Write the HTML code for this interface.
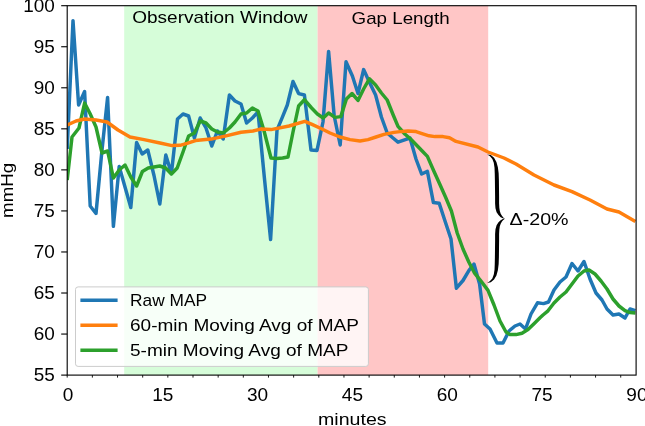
<!DOCTYPE html>
<html><head><meta charset="utf-8"><title>MAP chart</title>
<style>html,body{margin:0;padding:0;background:#fff;}svg{display:block;will-change:transform;}text{font-family:"Liberation Sans", sans-serif;font-size:17px;fill:#000;}</style></head><body>
<svg width="645" height="426" viewBox="0 0 645 426">
<rect x="0" y="0" width="645" height="426" fill="#ffffff"/>
<defs><clipPath id="ax"><rect x="67.20" y="5.70" width="568.90" height="369.40"/></clipPath></defs>
<rect x="124.2" y="5.7" width="193.40" height="369.40" fill="#d6fdd9"/>
<rect x="317.6" y="5.7" width="170.60" height="369.40" fill="#ffc6c6"/>
<g clip-path="url(#ax)" fill="none" stroke-linejoin="round" stroke-linecap="butt" stroke-width="3.47">
<polyline stroke="#1f77b4" points="67.2,149.0 73.0,20.7 78.6,105.0 84.6,91.5 90.2,206.0 96.0,213.5 101.8,152.0 107.6,97.5 113.4,226.3 119.2,166.5 125.0,187.0 130.8,207.5 136.6,142.5 142.2,154.0 147.8,150.0 154.0,175.5 159.8,204.0 165.8,155.0 171.4,173.5 177.5,119.0 183.0,114.0 188.6,116.0 194.4,138.0 200.2,118.0 206.0,128.0 211.8,146.0 217.4,131.0 223.2,139.0 229.4,95.0 235.0,101.0 241.0,104.0 246.6,123.0 252.4,118.0 258.0,112.0 264.3,177.0 270.6,239.5 277.0,130.2 282.4,117.2 287.3,105.0 293.0,81.5 298.6,93.6 304.4,95.0 311.0,150.0 317.0,150.4 323.0,122.0 328.6,51.5 334.2,116.0 340.2,145.0 346.0,61.8 352.4,76.0 358.0,93.5 363.6,69.6 369.8,83.0 375.6,95.0 381.4,117.0 387.2,133.0 393.0,138.0 398.0,142.2 404.6,139.8 410.0,138.0 416.0,159.0 421.6,174.0 427.4,171.4 433.4,202.6 439.2,203.2 445.0,221.0 451.0,239.0 456.4,288.2 463.0,280.5 469.0,270.3 474.0,264.0 479.6,284.0 484.5,324.0 490.0,329.0 497.0,343.0 503.0,343.0 509.0,331.0 515.0,326.0 520.0,324.0 525.5,329.0 531.0,314.0 537.5,302.8 543.5,303.6 548.5,302.0 554.0,290.0 560.0,282.0 566.0,277.0 572.0,263.5 578.0,271.0 584.0,261.5 590.0,279.0 596.0,293.0 602.0,300.0 607.0,309.0 613.0,315.0 619.0,314.0 625.0,318.0 630.0,309.0 635.4,310.6"/>
<polyline stroke="#2ca02c" points="67.2,180.0 72.0,137.0 79.0,128.0 84.6,103.1 90.0,113.5 96.0,127.0 102.0,153.0 107.6,151.0 113.4,178.0 119.2,170.0 125.0,165.0 130.8,177.0 136.6,186.0 142.4,171.5 148.2,168.0 154.0,167.0 159.8,166.0 165.6,168.0 171.4,174.0 177.2,168.0 183.0,152.0 188.6,136.0 194.4,133.0 200.2,121.0 206.0,123.0 211.8,129.0 217.4,132.0 223.2,133.0 229.4,128.0 235.0,122.0 241.0,114.0 246.6,113.0 252.4,108.0 258.0,111.0 263.8,130.0 271.0,158.0 276.8,158.5 282.6,158.0 288.0,157.0 293.0,132.0 298.6,106.0 304.4,99.7 311.6,108.0 317.4,114.0 323.2,118.0 328.6,113.0 335.0,117.4 340.8,116.6 346.4,99.0 352.0,93.5 358.0,100.4 363.6,89.0 369.4,78.8 375.6,85.0 381.4,93.0 387.2,100.0 393.0,114.5 398.0,126.4 404.8,134.0 410.6,139.0 416.4,145.0 422.2,151.0 427.4,156.4 433.8,171.0 439.7,184.0 445.5,197.0 451.4,211.0 457.2,233.0 463.0,249.0 468.8,262.0 474.6,273.2 480.0,279.8 488.0,290.4 494.0,305.0 500.0,321.0 506.0,332.0 510.0,334.6 516.0,334.6 522.0,333.2 528.0,329.6 534.0,323.8 540.0,317.8 543.0,315.0 548.0,310.8 554.0,303.0 560.0,297.0 566.0,292.0 572.0,284.0 578.0,276.0 584.0,271.0 589.0,270.0 595.0,274.0 601.0,281.0 607.0,289.0 613.0,299.0 619.0,306.0 625.0,310.6 630.0,312.6 635.4,313.0"/>
<polyline stroke="#ff7f0e" points="67.4,125.0 76.0,121.0 84.6,119.0 96.0,120.0 107.0,122.0 118.0,130.0 130.0,137.0 144.0,139.6 160.0,143.0 172.0,145.6 180.0,145.3 187.0,143.3 195.5,140.6 211.0,139.1 225.0,136.1 241.0,132.3 253.0,131.0 261.0,129.0 271.0,129.6 289.0,126.0 304.8,121.3 312.0,124.4 322.0,129.0 330.0,133.0 340.0,137.0 350.0,139.6 360.0,141.0 368.0,139.6 376.0,137.0 384.0,134.4 394.0,132.4 402.0,131.4 408.0,131.0 416.0,131.6 422.0,133.6 429.0,135.8 435.0,136.6 443.0,136.6 449.5,137.8 456.0,141.4 478.0,147.0 488.0,152.0 504.0,158.0 516.0,164.0 534.0,175.0 554.0,185.0 572.0,191.6 590.0,200.0 607.0,209.0 619.0,212.0 635.4,221.4"/>
</g>
<path d="M504.90,218.70 L502.74,219.07 L500.65,220.27 L498.50,222.30 L496.59,225.25 L495.47,229.24 L495.10,233.95 L495.10,240.99 L495.00,248.98 L494.90,256.96 L494.75,263.90 L494.52,269.76 L493.77,274.56 L492.34,278.40 L490.01,281.12 L487.20,283.00 L487.20,283.00 L490.79,282.28 L494.06,279.60 L496.43,275.44 L497.88,270.24 L498.65,264.10 L498.90,257.04 L499.00,249.02 L499.10,241.01 L499.10,234.05 L499.33,229.76 L499.81,226.35 L500.70,223.70 L501.95,221.53 L503.26,219.93 L504.90,218.70 Z M504.90,218.70 L503.26,217.47 L501.95,215.87 L500.70,213.70 L499.81,211.05 L499.33,207.64 L499.10,203.35 L499.10,196.39 L499.00,188.38 L498.90,180.36 L498.65,173.30 L497.88,167.16 L496.43,161.96 L494.06,157.80 L490.79,155.12 L487.20,154.40 L487.20,154.40 L490.01,156.28 L492.34,159.00 L493.77,162.84 L494.52,167.64 L494.75,173.50 L494.90,180.44 L495.00,188.42 L495.10,196.41 L495.10,203.45 L495.47,208.16 L496.59,212.15 L498.50,215.10 L500.65,217.13 L502.74,218.33 L504.90,218.70 Z" fill="#000"/>
<rect x="75.5" y="286.9" width="292.9" height="79.5" rx="2.6" ry="2.6" fill="#ffffff" fill-opacity="0.8" stroke="#cccccc" stroke-width="1.0"/>
<line x1="80.4" y1="300.3" x2="117.6" y2="300.3" stroke="#1f77b4" stroke-width="3.47"/>
<line x1="80.4" y1="325.3" x2="117.6" y2="325.3" stroke="#ff7f0e" stroke-width="3.47"/>
<line x1="80.4" y1="350.3" x2="117.6" y2="350.3" stroke="#2ca02c" stroke-width="3.47"/>
<rect x="67.2" y="5.7" width="568.90" height="369.40" fill="none" stroke="#000" stroke-width="1.11" stroke-linejoin="miter"/>
<line x1="61.20" y1="375.10" x2="67.20" y2="375.10" stroke="#000" stroke-width="1.11"/>
<line x1="61.20" y1="334.06" x2="67.20" y2="334.06" stroke="#000" stroke-width="1.11"/>
<line x1="61.20" y1="293.01" x2="67.20" y2="293.01" stroke="#000" stroke-width="1.11"/>
<line x1="61.20" y1="251.97" x2="67.20" y2="251.97" stroke="#000" stroke-width="1.11"/>
<line x1="61.20" y1="210.92" x2="67.20" y2="210.92" stroke="#000" stroke-width="1.11"/>
<line x1="61.20" y1="169.88" x2="67.20" y2="169.88" stroke="#000" stroke-width="1.11"/>
<line x1="61.20" y1="128.83" x2="67.20" y2="128.83" stroke="#000" stroke-width="1.11"/>
<line x1="61.20" y1="87.79" x2="67.20" y2="87.79" stroke="#000" stroke-width="1.11"/>
<line x1="61.20" y1="46.74" x2="67.20" y2="46.74" stroke="#000" stroke-width="1.11"/>
<line x1="61.20" y1="5.70" x2="67.20" y2="5.70" stroke="#000" stroke-width="1.11"/>
<line x1="67.20" y1="375.10" x2="67.20" y2="377.60" stroke="#000" stroke-width="0.9"/>
<line x1="92.36" y1="375.10" x2="92.36" y2="377.60" stroke="#000" stroke-width="0.9"/>
<line x1="117.52" y1="375.10" x2="117.52" y2="377.60" stroke="#000" stroke-width="0.9"/>
<line x1="142.68" y1="375.10" x2="142.68" y2="377.60" stroke="#000" stroke-width="0.9"/>
<line x1="167.84" y1="375.10" x2="167.84" y2="377.60" stroke="#000" stroke-width="0.9"/>
<line x1="193.00" y1="375.10" x2="193.00" y2="377.60" stroke="#000" stroke-width="0.9"/>
<line x1="218.16" y1="375.10" x2="218.16" y2="377.60" stroke="#000" stroke-width="0.9"/>
<line x1="243.32" y1="375.10" x2="243.32" y2="377.60" stroke="#000" stroke-width="0.9"/>
<line x1="268.48" y1="375.10" x2="268.48" y2="377.60" stroke="#000" stroke-width="0.9"/>
<line x1="293.64" y1="375.10" x2="293.64" y2="377.60" stroke="#000" stroke-width="0.9"/>
<line x1="318.80" y1="375.10" x2="318.80" y2="377.60" stroke="#000" stroke-width="0.9"/>
<line x1="343.96" y1="375.10" x2="343.96" y2="377.60" stroke="#000" stroke-width="0.9"/>
<line x1="369.12" y1="375.10" x2="369.12" y2="377.60" stroke="#000" stroke-width="0.9"/>
<line x1="394.28" y1="375.10" x2="394.28" y2="377.60" stroke="#000" stroke-width="0.9"/>
<line x1="419.44" y1="375.10" x2="419.44" y2="377.60" stroke="#000" stroke-width="0.9"/>
<line x1="444.60" y1="375.10" x2="444.60" y2="377.60" stroke="#000" stroke-width="0.9"/>
<line x1="469.76" y1="375.10" x2="469.76" y2="377.60" stroke="#000" stroke-width="0.9"/>
<line x1="494.92" y1="375.10" x2="494.92" y2="377.60" stroke="#000" stroke-width="0.9"/>
<line x1="520.08" y1="375.10" x2="520.08" y2="377.60" stroke="#000" stroke-width="0.9"/>
<line x1="545.24" y1="375.10" x2="545.24" y2="377.60" stroke="#000" stroke-width="0.9"/>
<line x1="570.40" y1="375.10" x2="570.40" y2="377.60" stroke="#000" stroke-width="0.9"/>
<line x1="595.56" y1="375.10" x2="595.56" y2="377.60" stroke="#000" stroke-width="0.9"/>
<line x1="620.72" y1="375.10" x2="620.72" y2="377.60" stroke="#000" stroke-width="0.9"/>
<text x="33.80" y="381.30" textLength="21.10" lengthAdjust="spacingAndGlyphs" style="font-size:17.7px">55</text>
<text x="33.80" y="340.26" textLength="21.10" lengthAdjust="spacingAndGlyphs" style="font-size:17.7px">60</text>
<text x="33.80" y="299.21" textLength="21.10" lengthAdjust="spacingAndGlyphs" style="font-size:17.7px">65</text>
<text x="33.80" y="258.17" textLength="21.10" lengthAdjust="spacingAndGlyphs" style="font-size:17.7px">70</text>
<text x="33.80" y="217.12" textLength="21.10" lengthAdjust="spacingAndGlyphs" style="font-size:17.7px">75</text>
<text x="33.80" y="176.08" textLength="21.10" lengthAdjust="spacingAndGlyphs" style="font-size:17.7px">80</text>
<text x="33.80" y="135.03" textLength="21.10" lengthAdjust="spacingAndGlyphs" style="font-size:17.7px">85</text>
<text x="33.80" y="93.99" textLength="21.10" lengthAdjust="spacingAndGlyphs" style="font-size:17.7px">90</text>
<text x="33.80" y="52.94" textLength="21.10" lengthAdjust="spacingAndGlyphs" style="font-size:17.7px">95</text>
<text x="23.30" y="11.90" textLength="31.60" lengthAdjust="spacingAndGlyphs" style="font-size:17.7px">100</text>
<text x="62.70" y="400.90" textLength="10.60" lengthAdjust="spacingAndGlyphs" style="font-size:17.7px">0</text>
<text x="152.22" y="400.90" textLength="21.20" lengthAdjust="spacingAndGlyphs" style="font-size:17.7px">15</text>
<text x="247.03" y="400.90" textLength="21.20" lengthAdjust="spacingAndGlyphs" style="font-size:17.7px">30</text>
<text x="341.85" y="400.90" textLength="21.20" lengthAdjust="spacingAndGlyphs" style="font-size:17.7px">45</text>
<text x="436.67" y="400.90" textLength="21.20" lengthAdjust="spacingAndGlyphs" style="font-size:17.7px">60</text>
<text x="531.48" y="400.90" textLength="21.20" lengthAdjust="spacingAndGlyphs" style="font-size:17.7px">75</text>
<text x="626.30" y="400.90" textLength="21.20" lengthAdjust="spacingAndGlyphs" style="font-size:17.7px">90</text>
<text x="318.00" y="424.60" textLength="68.60" lengthAdjust="spacingAndGlyphs">minutes</text>
<text x="132.20" y="23.40" textLength="175.40" lengthAdjust="spacingAndGlyphs">Observation Window</text>
<text x="351.60" y="23.50" textLength="98.00" lengthAdjust="spacingAndGlyphs">Gap Length</text>
<text x="509.60" y="224.70" textLength="59.00" lengthAdjust="spacingAndGlyphs">Δ-20%</text>
<text x="130.00" y="306.30" textLength="77.00" lengthAdjust="spacingAndGlyphs">Raw MAP</text>
<text x="130.00" y="331.30" textLength="229.00" lengthAdjust="spacingAndGlyphs">60-min Moving Avg of MAP</text>
<text x="130.00" y="356.30" textLength="218.40" lengthAdjust="spacingAndGlyphs">5-min Moving Avg of MAP</text>
<text transform="translate(13.4,217.9) rotate(-90)" x="0" y="0" textLength="55.0" lengthAdjust="spacingAndGlyphs" style="font-size:16px">mmHg</text>
</svg></body></html>
